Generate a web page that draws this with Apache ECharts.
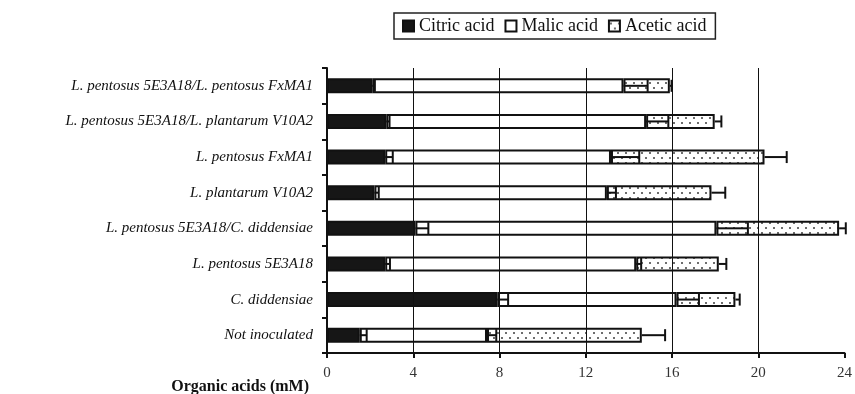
<!DOCTYPE html>
<html>
<head>
<meta charset="utf-8">
<script src="https://cdn.jsdelivr.net/npm/echarts@6/dist/echarts.min.js"></script>
<style>
  html, body { margin: 0; padding: 0; background: #fff; }
  #chart { width: 855px; height: 394px; }
</style>
</head>
<body>
<div id="chart"></div>
<script>
// Treatments, listed bottom to top as the category axis draws them
const categories = [
  'Not inoculated',
  'C. diddensiae',
  'L. pentosus 5E3A18',
  'L. pentosus 5E3A18/C. diddensiae',
  'L. plantarum V10A2',
  'L. pentosus FxMA1',
  'L. pentosus 5E3A18/L. plantarum V10A2',
  'L. pentosus 5E3A18/L. pentosus FxMA1'
];

// Mean concentrations (mM), stacked in this order
const citric = [1.52, 7.90, 2.70, 4.10, 2.20, 2.70, 2.75, 2.10];
const malic  = [5.90, 8.31, 11.64, 13.96, 10.78, 10.47, 12.05, 11.65];
const acetic = [7.18, 2.73, 3.83, 5.69, 4.85, 7.12, 3.18, 2.15];

// Standard deviations (mM)
const citricSd = [0.32, 0.50, 0.22, 0.60, 0.20, 0.35, 0.15, 0.12];
const malicSd  = [0.43, 1.04, 0.23, 1.46, 0.42, 1.31, 1.03, 1.12];
const aceticSd = [1.08, 0.20, 0.35, 0.31, 0.64, 1.03, 0.31, 0.08];

// Value axis ticks
const xTicks = [0, 4, 8, 12, 16, 20, 24];

const serif = 'Liberation Serif';

// Dotted fill used for acetic acid
function dotPattern() {
  const c = document.createElement('canvas');
  c.width = 8; c.height = 10;
  const ctx = c.getContext('2d');
  ctx.fillStyle = '#ffffff';
  ctx.fillRect(0, 0, 8, 10);
  ctx.fillStyle = '#6e6e6e';
  ctx.fillRect(1, 2, 2, 2);
  ctx.fillRect(5, 7, 2, 2);
  return c;
}

// Running totals so each error bar starts at the end of its segment
function cumulative(...parts) {
  return categories.map((_, i) => parts.reduce((s, p) => s + p[i], 0));
}
const citricEnd = cumulative(citric);
const malicEnd = cumulative(citric, malic);
const aceticEnd = cumulative(citric, malic, acetic);

function errData(ends, sds) {
  return categories.map((_, i) => [ends[i], i, sds[i]]);
}

function renderError(params, api) {
  const from = api.coord([api.value(0), api.value(1)]);
  const to = api.coord([api.value(0) + api.value(2), api.value(1)]);
  const half = 6;
  const style = { stroke: '#111', lineWidth: 2 };
  return {
    type: 'group',
    children: [
      { type: 'line', shape: { x1: from[0], y1: from[1], x2: to[0], y2: to[1] }, style },
      { type: 'line', shape: { x1: to[0], y1: to[1] - half, x2: to[0], y2: to[1] + half }, style }
    ]
  };
}

const barBase = {
  type: 'bar',
  stack: 'acids',
  barWidth: 15,
  emphasis: { disabled: true }
};

const errBase = {
  type: 'custom',
  renderItem: renderError,
  encode: { x: 0, y: 1 },
  z: 5,
  silent: true
};

const chart = echarts.init(document.getElementById('chart'), null, { renderer: 'canvas' });

chart.setOption({
  animation: false,
  backgroundColor: '#ffffff',
  title: {
    text: 'Organic acids (mM)',
    right: 541,
    top: 374,
    textStyle: { fontFamily: serif, fontWeight: 'bold', fontSize: 16, color: '#111' }
  },
  legend: {
    data: ['Citric acid', 'Malic acid', 'Acetic acid'],
    left: 394,
    top: 13,
    padding: [4, 9, 4, 8],
    itemWidth: 11,
    itemHeight: 11,
    itemGap: 10,
    borderColor: '#222',
    borderWidth: 1.5,
    borderRadius: 0,
    icon: 'rect',
    textStyle: { fontFamily: serif, fontSize: 18, color: '#111' }
  },
  grid: { left: 327, right: 8, top: 68, bottom: 41 },
  xAxis: {
    type: 'value',
    min: 0,
    max: 24,
    interval: 4,
    axisLine: { show: true, lineStyle: { color: '#111', width: 2 } },
    axisTick: { show: true, length: 5, lineStyle: { color: '#111', width: 2 } },
    splitLine: { show: false },
    axisLabel: {
      margin: 13,
      fontFamily: serif,
      fontSize: 15,
      color: '#333',
      formatter: v => (xTicks.includes(v) ? String(v) : '')
    }
  },
  yAxis: {
    type: 'category',
    data: categories,
    axisLine: { show: true, lineStyle: { color: '#111', width: 2 } },
    axisTick: { show: true, length: 5, lineStyle: { color: '#111', width: 2 } },
    axisLabel: {
      margin: 14,
      fontFamily: serif,
      fontStyle: 'italic',
      fontSize: 15,
      color: '#111'
    }
  },
  series: [
    Object.assign({}, barBase, {
      name: 'Citric acid',
      data: citric,
      itemStyle: { color: '#161616', borderColor: '#111', borderWidth: 2 },
      markLine: {
        silent: true,
        symbol: 'none',
        label: { show: false },
        lineStyle: { color: '#111', width: 1, type: 'solid' },
        data: xTicks.filter(v => v > 0 && v < 24).map(v => ({ xAxis: v }))
      },
      z: 2
    }),
    Object.assign({}, barBase, {
      name: 'Malic acid',
      data: malic,
      itemStyle: { color: '#ffffff', borderColor: '#111', borderWidth: 2 },
      z: 2
    }),
    Object.assign({}, barBase, {
      name: 'Acetic acid',
      data: acetic,
      itemStyle: {
        color: { image: dotPattern(), repeat: 'repeat' },
        borderColor: '#111',
        borderWidth: 2
      },
      z: 2
    }),
    Object.assign({}, errBase, { name: 'citric-sd', data: errData(citricEnd, citricSd) }),
    Object.assign({}, errBase, { name: 'malic-sd', data: errData(malicEnd, malicSd) }),
    Object.assign({}, errBase, { name: 'acetic-sd', data: errData(aceticEnd, aceticSd) })
  ]
});
</script>
</body>
</html>
